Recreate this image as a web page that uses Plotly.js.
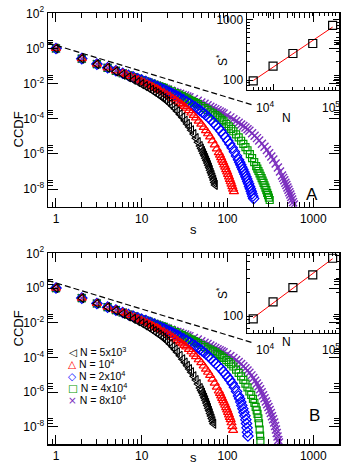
<!DOCTYPE html>
<html>
<head>
<meta charset="utf-8">
<script src="https://cdn.plot.ly/plotly-3.0.1.min.js"></script>
<style>
  html, body { margin: 0; padding: 0; background: #fff; }
  #chart { width: 349px; height: 475px; }
</style>
</head>
<body>
<div id="chart"></div>
<script>
// CCDF values are kept as log10.
// Panel A
const sA_5k   = [1,2,3,4,5,6,7,8,9,10,11,12,13,14,15,16,17,18,19,20,21.5,23,24.5,26,28,30,32,34,36,38,40.5,43,45.5,48,49.5,51,52.5,54,55.5,57,58.5,60,61.5,63,64.5,66,67.5,69,70.5,72];
const logA_5k = [0,-0.58,-0.89,-1.10,-1.30,-1.48,-1.64,-1.78,-1.91,-2.03,-2.14,-2.25,-2.35,-2.46,-2.55,-2.65,-2.74,-2.83,-2.92,-3.01,-3.15,-3.29,-3.43,-3.57,-3.75,-3.92,-4.11,-4.29,-4.47,-4.65,-4.87,-5.10,-5.33,-5.55,-5.69,-5.83,-5.97,-6.10,-6.24,-6.37,-6.51,-6.64,-6.78,-6.92,-7.07,-7.20,-7.34,-7.48,-7.62,-7.76];

const sA_10k   = [1,2,3,4,5,6,6.6,7.4,8.3,9.1,9.9,10.7,11.6,12.4,13.2,14,14.9,15.7,16.5,18.2,19.8,21.5,23.1,24.8,26.4,28.1,29.7,31.4,33,35.5,38,40.4,42.9,46.2,49.5,52.8,56.1,59.4,62.7,66.8,71,75.1,79.2,81.7,84.2,86.6,89.1,91.6,94.1,96.5,99,101.5,104,106.4,108.9,111.4,113.9,116.3,118.8];
const logA_10k = [0,-0.58,-0.89,-1.10,-1.27,-1.41,-1.48,-1.59,-1.68,-1.78,-1.86,-1.94,-2.02,-2.09,-2.16,-2.23,-2.29,-2.35,-2.41,-2.52,-2.63,-2.73,-2.84,-2.93,-3.03,-3.12,-3.21,-3.30,-3.39,-3.53,-3.67,-3.81,-3.95,-4.13,-4.30,-4.49,-4.67,-4.85,-5.03,-5.25,-5.48,-5.71,-5.93,-6.07,-6.21,-6.35,-6.48,-6.62,-6.75,-6.89,-7.02,-7.16,-7.30,-7.45,-7.58,-7.72,-7.86,-8.00,-8.14];

const sA_20k   = [1,2,3,4,5,6,7,8,9,10,11.2,12.6,14,15.4,16.8,18.2,19.6,21,22.4,23.8,25.2,26.6,28,30.8,33.6,36.4,39.2,42,44.8,47.6,50.4,53.2,56,60.2,64.4,68.6,72.8,78.4,84,89.6,95.2,100.8,106.4,113.4,120.4,127.4,134.4,138.6,142.8,147,151.2,155.4,159.6,163.8,168,172.2,176.4,180.6,184.8,189,193.2,197.4,201.6];
const logA_20k = [0,-0.58,-0.89,-1.10,-1.27,-1.41,-1.53,-1.63,-1.72,-1.80,-1.88,-1.99,-2.08,-2.18,-2.26,-2.34,-2.42,-2.49,-2.56,-2.63,-2.69,-2.75,-2.81,-2.92,-3.03,-3.13,-3.24,-3.33,-3.43,-3.52,-3.61,-3.70,-3.79,-3.93,-4.07,-4.21,-4.35,-4.53,-4.70,-4.89,-5.07,-5.25,-5.43,-5.65,-5.88,-6.11,-6.33,-6.47,-6.61,-6.75,-6.88,-7.02,-7.15,-7.29,-7.42,-7.56,-7.70,-7.85,-7.98,-8.12,-8.26,-8.40,-8.54];

const sA_40k   = [1,2,3,4,5,6,7,8,9,10,11,12,13,14,15,16,17,18,20.3,22.5,24.8,27,29.3,31.5,33.8,36,38.3,40.5,42.8,45,49.5,54,58.5,63,67.5,72,76.5,81,85.5,90,96.8,103.5,110.3,117,126,135,144,153,162,171,182.3,193.5,204.8,216,222.8,229.5,236.3,243,249.8,256.5,263.3,270,276.8,283.5,290.3,297,303.8,310.5];
const logA_40k = [0,-0.58,-0.89,-1.10,-1.27,-1.41,-1.53,-1.63,-1.72,-1.80,-1.87,-1.94,-2.00,-2.06,-2.11,-2.16,-2.20,-2.24,-2.35,-2.44,-2.54,-2.62,-2.70,-2.78,-2.85,-2.92,-2.99,-3.05,-3.11,-3.17,-3.28,-3.39,-3.49,-3.60,-3.69,-3.79,-3.88,-3.97,-4.06,-4.15,-4.29,-4.43,-4.57,-4.71,-4.89,-5.06,-5.25,-5.43,-5.61,-5.79,-6.01,-6.24,-6.47,-6.69,-6.83,-6.97,-7.11,-7.24,-7.38,-7.51,-7.65,-7.78,-7.92,-8.06,-8.21,-8.34,-8.48,-8.62];

const sA_80k   = [1,2,3,4,5,6,7,8,9,10,11,12,13,14,15,16,17,18,19,20,22,24,26,28,30,32,34,36,40.5,45,49.5,54,58.5,63,67.5,72,76.5,81,85.5,90,99,108,117,126,135,144,153,162,171,180,193.5,207,220.5,234,252,270,288,306,324,342,364.5,387,409.5,432,445.5,459,472.5,486,499.5,513,526.5,540,553.5,567,580.5,594];
const logA_80k = [0,-0.58,-0.89,-1.10,-1.27,-1.41,-1.53,-1.63,-1.72,-1.80,-1.87,-1.94,-2.00,-2.06,-2.11,-2.16,-2.20,-2.25,-2.29,-2.33,-2.40,-2.47,-2.53,-2.58,-2.64,-2.68,-2.73,-2.77,-2.88,-2.97,-3.07,-3.15,-3.23,-3.31,-3.38,-3.45,-3.52,-3.58,-3.64,-3.70,-3.81,-3.92,-4.02,-4.13,-4.22,-4.32,-4.41,-4.50,-4.59,-4.68,-4.82,-4.96,-5.10,-5.24,-5.42,-5.59,-5.78,-5.96,-6.14,-6.32,-6.54,-6.77,-7.00,-7.22,-7.36,-7.50,-7.64,-7.77,-7.91,-8.04,-8.18,-8.31,-8.45,-8.59,-8.74,-8.87];

// Panel B
const sB_5k   = [1,2,3,4,5,6,7,8,9,10,11,12,13,14,15,16,17,18,19,20,21.5,23,24.5,26,28,30,32,34,36,38,40.5,43,45.5,48,49.5,51,52.5,54,55.5,57,58.5,60,61.5,63,64.5,66,67.5,69];
const logB_5k = [0,-0.58,-0.89,-1.10,-1.30,-1.48,-1.64,-1.78,-1.91,-2.03,-2.15,-2.26,-2.37,-2.48,-2.58,-2.68,-2.78,-2.87,-2.97,-3.07,-3.22,-3.38,-3.54,-3.70,-3.90,-4.10,-4.29,-4.48,-4.67,-4.85,-5.08,-5.30,-5.53,-5.76,-5.90,-6.03,-6.18,-6.32,-6.47,-6.62,-6.77,-6.92,-7.07,-7.22,-7.37,-7.52,-7.67,-7.82];

const sB_10k   = [1,2,3,4,5,6,6.6,7.4,8.3,9.1,9.9,10.7,11.6,12.4,13.2,14,14.9,15.7,16.5,18.2,19.8,21.5,23.1,24.8,26.4,28.1,29.7,31.4,33,35.5,38,40.4,42.9,46.2,49.5,52.8,56.1,59.4,62.7,66.8,71,75.1,79.2,81.7,84.2,86.6,89.1,91.6,94.1,96.5,99,101.5,104,106.4,108.9,111.4,113.9,116.3];
const logB_10k = [0,-0.58,-0.89,-1.10,-1.27,-1.41,-1.48,-1.59,-1.68,-1.78,-1.86,-1.94,-2.02,-2.09,-2.16,-2.23,-2.29,-2.35,-2.41,-2.52,-2.63,-2.73,-2.84,-2.93,-3.03,-3.12,-3.21,-3.30,-3.39,-3.53,-3.67,-3.81,-3.95,-4.13,-4.30,-4.49,-4.67,-4.85,-5.03,-5.25,-5.48,-5.71,-5.93,-6.07,-6.21,-6.35,-6.48,-6.62,-6.75,-6.89,-7.02,-7.16,-7.30,-7.45,-7.58,-7.76,-7.98,-8.20];

const sB_20k   = [1,2,3,4,5,6,7,8,9,10,11.2,12.6,14,15.4,16.8,18.2,19.6,21,22.4,23.8,25.2,26.6,28,30.8,33.6,36.4,39.2,42,44.8,47.6,50.4,53.2,56,60.2,64.4,68.6,72.8,78.4,84,89.6,95.2,100.8,106.4,113.4,120.4,127.4,134.4,138.6,142.8,147,151.2,155.4,159.6,163.8,166.5,169,171,173];
const logB_20k = [0,-0.58,-0.89,-1.10,-1.27,-1.41,-1.53,-1.63,-1.72,-1.80,-1.88,-1.99,-2.08,-2.18,-2.26,-2.34,-2.42,-2.49,-2.56,-2.63,-2.69,-2.75,-2.81,-2.92,-3.03,-3.13,-3.24,-3.33,-3.43,-3.52,-3.61,-3.70,-3.79,-3.93,-4.07,-4.21,-4.35,-4.50,-4.65,-4.82,-4.98,-5.14,-5.30,-5.50,-5.72,-5.96,-6.22,-6.38,-6.57,-6.76,-6.95,-7.15,-7.36,-7.58,-7.80,-8.05,-8.30,-8.52];

const sB_40k   = [1,2,3,4,5,6,7,8,9,10,11,12,13,14,15,16,17,18,20.3,22.5,24.8,27,29.3,31.5,33.8,36,38.3,40.5,42.8,45,49.5,54,58.5,63,67.5,72,76.5,81,85.5,90,96.8,103.5,110.3,117,126,135,144,153,162,171,180,189,198,206,213,219,224,229,233,237,240,242];
const logB_40k = [0,-0.58,-0.89,-1.10,-1.27,-1.41,-1.53,-1.63,-1.72,-1.80,-1.87,-1.94,-2.00,-2.06,-2.11,-2.16,-2.20,-2.24,-2.35,-2.44,-2.54,-2.62,-2.70,-2.78,-2.85,-2.92,-2.99,-3.05,-3.11,-3.17,-3.28,-3.39,-3.49,-3.55,-3.63,-3.71,-3.79,-3.87,-3.95,-4.03,-4.15,-4.27,-4.39,-4.52,-4.70,-4.89,-5.09,-5.29,-5.50,-5.72,-5.96,-6.15,-6.38,-6.62,-6.85,-7.05,-7.25,-7.50,-7.80,-8.15,-8.50,-8.80];

const sB_80k   = [1,2,3,4,5,6,7,8,9,10,11,12,13,14,15,16,17,18,19,20,22,24,26,28,30,32,34,36,40.5,45,49.5,54,58.5,63,67.5,72,76.5,81,85.5,90,99,108,117,126,135,144,153,162,171,180,190,200,210,220,230,240,250,260,270,280,290,300,310,320,330,340,350,359,367,375,383,391,398];
const logB_80k = [0,-0.58,-0.89,-1.10,-1.27,-1.41,-1.53,-1.63,-1.72,-1.80,-1.87,-1.94,-2.00,-2.06,-2.11,-2.16,-2.20,-2.25,-2.29,-2.33,-2.40,-2.47,-2.53,-2.58,-2.64,-2.68,-2.73,-2.77,-2.88,-2.97,-3.07,-3.15,-3.23,-3.31,-3.38,-3.45,-3.52,-3.58,-3.64,-3.70,-3.81,-3.92,-4.03,-4.14,-4.26,-4.38,-4.50,-4.62,-4.75,-4.88,-5.03,-5.18,-5.34,-5.50,-5.66,-5.83,-6.00,-6.17,-6.35,-6.53,-6.70,-6.85,-7.03,-7.20,-7.38,-7.56,-7.75,-7.95,-8.15,-8.35,-8.55,-8.75,-8.90];

// power-law guide lines (end points)
const guideS = [0.8, 197];
const guideA = [2.1, 6.1e-4];
const guideB = [2.75, 7.0e-4];

// insets: cutoff S* against system size N
const sizesN = [5e3, 1e4, 2e4, 4e4, 8e4];
const sStarA = [97, 170, 274, 400, 798];
const sStarB = [92, 152, 231, 336, 550];

const FONT = 'Liberation Sans, Arial, sans-serif';

// drawn first to last, black ends up on top
const SERIES = [
  { label: 'N = 8x10<sup>4</sup>', sym: '×', color: '#7b2fbe', symbol: 'x-thin-open',        size: 8, lw: 1.4, sA: sA_80k, lA: logA_80k, sB: sB_80k, lB: logB_80k },
  { label: 'N = 4x10<sup>4</sup>', sym: '□', color: '#009a00', symbol: 'square-open',        size: 7, lw: 1.2, sA: sA_40k, lA: logA_40k, sB: sB_40k, lB: logB_40k },
  { label: 'N = 2x10<sup>4</sup>', sym: '◇', color: '#0000ff', symbol: 'diamond-open',       size: 8, lw: 1.2, sA: sA_20k, lA: logA_20k, sB: sB_20k, lB: logB_20k },
  { label: 'N = 10<sup>4</sup>',   sym: '△', color: '#ff0000', symbol: 'triangle-up-open',   size: 8, lw: 1.2, sA: sA_10k, lA: logA_10k, sB: sB_10k, lB: logB_10k },
  { label: 'N = 5x10<sup>3</sup>', sym: '◁', color: '#000000', symbol: 'triangle-left-open', size: 8, lw: 1.1, sA: sA_5k,  lA: logA_5k,  sB: sB_5k,  lB: logB_5k  },
];

function fitLine(xs, ys) {
  const lx = xs.map(Math.log10), ly = ys.map(Math.log10);
  const n = lx.length;
  const mx = lx.reduce((a, b) => a + b, 0) / n;
  const my = ly.reduce((a, b) => a + b, 0) / n;
  let sxy = 0, sxx = 0;
  lx.forEach((x, i) => { sxy += (x - mx) * (ly[i] - my); sxx += (x - mx) ** 2; });
  const slope = sxy / sxx, icpt = my - slope * mx;
  const ends = [xs[0], xs[n - 1]];
  return { x: ends, y: ends.map(v => 10 ** (icpt + slope * Math.log10(v))) };
}

const traces = [];
[['x', 'y', 'sA', 'lA', guideA], ['x2', 'y2', 'sB', 'lB', guideB]].forEach(([xa, ya, sk, lk, guide]) => {
  SERIES.forEach(d => {
    traces.push({
      x: d[sk], y: d[lk].map(v => 10 ** v),
      xaxis: xa, yaxis: ya,
      type: 'scatter', mode: 'markers', showlegend: false,
      marker: { symbol: d.symbol, size: d.size, color: d.color, line: { color: d.color, width: d.lw } },
    });
  });
  traces.push({
    x: guideS, y: guide, xaxis: xa, yaxis: ya,
    type: 'scatter', mode: 'lines', showlegend: false,
    line: { color: '#000', width: 1.2, dash: '6px,3px' },
  });
});

[['x3', 'y3', sStarA], ['x4', 'y4', sStarB]].forEach(([xa, ya, ys]) => {
  const f = fitLine(sizesN, ys);
  traces.push({ x: f.x, y: f.y, xaxis: xa, yaxis: ya, type: 'scatter', mode: 'lines',
    showlegend: false, line: { color: '#ff0000', width: 1 } });
  traces.push({ x: sizesN, y: ys, xaxis: xa, yaxis: ya, type: 'scatter', mode: 'markers',
    showlegend: false, marker: { symbol: 'square-open', size: 8, color: '#000', line: { color: '#000', width: 1.2 } } });
});

// tick helpers
const decadeMinors = (lo, hi) => {
  const out = [];
  for (let k = -1; k <= 6; k++) for (let m = 2; m <= 9; m++) {
    const v = m * 10 ** k;
    if (v > lo && v < hi) out.push(v);
  }
  return out;
};
const yMinor = [];
[-8, -6, -4, -2, 0].forEach(k => [0.22, 0.35, 0.48].forEach(o => yMinor.push(10 ** (k + o))));

const mainX = (dom, anchor) => ({
  type: 'log', domain: dom, range: [-0.093, 3.30], anchor,
  showline: true, linecolor: '#000', linewidth: 1.5, mirror: 'ticks',
  ticks: 'inside', ticklen: 9, tickwidth: 1, tickcolor: '#000',
  tickmode: 'array', tickvals: [1, 10, 100, 1000], ticktext: ['1', '10', '100', '1000'],
  minor: { tickmode: 'array', tickvals: decadeMinors(0.8, 2000), ticks: 'inside', ticklen: 5, tickcolor: '#000' },
  showgrid: false, zeroline: false,
  tickfont: { family: FONT, size: 12, color: '#000' },
});
const mainY = (dom, anchor) => ({
  type: 'log', domain: dom, range: [-9, 2], anchor,
  showline: true, linecolor: '#000', linewidth: 1.5, mirror: 'ticks',
  ticks: 'inside', ticklen: 10, tickwidth: 1, tickcolor: '#000',
  tickmode: 'array', tickvals: [1e-8, 1e-6, 1e-4, 1e-2, 1, 100],
  ticktext: ['10<sup>-8</sup>', '10<sup>-6</sup>', '10<sup>-4</sup>', '10<sup>-2</sup>', '10<sup>0</sup>', '10<sup>2</sup>'],
  minor: { tickmode: 'array', tickvals: yMinor, ticks: 'inside', ticklen: 5, tickcolor: '#000' },
  showgrid: false, zeroline: false,
  tickfont: { family: FONT, size: 12, color: '#000' },
});
const insetX = (dom, anchor) => ({
  type: 'log', domain: dom, range: [3.6, 5.0], anchor,
  showline: true, linecolor: '#000', linewidth: 1.2, mirror: 'ticks',
  ticks: 'inside', ticklen: 6, tickcolor: '#000',
  tickmode: 'array', tickvals: [1e4, 1e5], ticktext: ['10<sup>4</sup>', '10<sup>5</sup>'],
  minor: { tickmode: 'array', tickvals: decadeMinors(3990, 1e5), ticks: 'inside', ticklen: 3, tickcolor: '#000' },
  ticklabelstandoff: 6, ticklabelshift: -8,
  showgrid: false, zeroline: false,
  tickfont: { family: FONT, size: 12, color: '#000' },
});
const insetY = (dom, anchor, range, vals) => ({
  type: 'log', domain: dom, range, anchor,
  showline: true, linecolor: '#000', linewidth: 1.2, mirror: 'ticks',
  ticks: 'inside', ticklen: 6, tickcolor: '#000',
  tickmode: 'array', tickvals: vals, ticktext: vals.map(String),
  minor: { tickmode: 'array', tickvals: decadeMinors(10 ** range[0], 10 ** range[1]), ticks: 'inside', ticklen: 3, tickcolor: '#000' },
  showgrid: false, zeroline: false,
  tickfont: { family: FONT, size: 12, color: '#000' },
});

const W = 349, H = 475;
const px = v => v / W, py = v => 1 - v / H;

const ann = (text, x, y, extra) => Object.assign({
  text, x: px(x), y: py(y), xref: 'paper', yref: 'paper', showarrow: false,
  font: { family: FONT, size: 13, color: '#000' },
}, extra || {});
const small = { family: FONT, size: 12, color: '#000' };

const annotations = [
  ann('CCDF', 8, 110, { textangle: -90 }),
  ann('CCDF', 8, 349, { textangle: -90 }),
  ann('s', 193.5, 230),
  ann('s', 193.5, 467),
  ann('A', 320, 195, { font: { family: FONT, size: 17, color: '#000' } }),
  ann('B', 321.5, 427, { font: { family: FONT, size: 17, color: '#000' } }),
  ann('S<sup>*</sup>', 222, 52, { textangle: -90, font: small }),
  ann('S<sup>*</sup>', 222, 293, { textangle: -90, font: small }),
  ann('N', 293, 109, { font: small }),
  ann('N', 293, 351, { font: small }),
];
// legend of panel B, black entry on top
[...SERIES].reverse().forEach((d, i) => {
  annotations.push(ann(
    `<span style="color:${d.color};font-family:DejaVu Sans">${d.sym}</span> ${d.label}`,
    66, 360 + i * 12,
    { xanchor: 'left', font: { family: FONT, size: 10.5, color: '#000' } }
  ));
});

const layout = {
  width: W, height: H,
  margin: { l: 0, r: 0, t: 0, b: 0 },
  paper_bgcolor: '#fff', plot_bgcolor: 'rgba(0,0,0,0)',
  showlegend: false,
  xaxis:  mainX([px(48), px(339)], 'y'),
  yaxis:  mainY([py(206.7), py(13.3)], 'x'),
  xaxis2: mainX([px(48), px(339)], 'y2'),
  yaxis2: mainY([py(444.3), py(253.3)], 'x2'),
  xaxis3: insetX([px(246.7), px(339)], 'y3'),
  yaxis3: insetY([py(90), py(13.3)], 'x3', [1.836, 3.1], [100, 1000]),
  xaxis4: insetX([px(246.7), px(339)], 'y4'),
  yaxis4: insetY([py(332.7), py(253.3)], 'x4', [1.786, 2.804], [100]),
  annotations,
};

Plotly.newPlot('chart', traces, layout, { displayModeBar: false, staticPlot: true });
</script>
</body>
</html>
